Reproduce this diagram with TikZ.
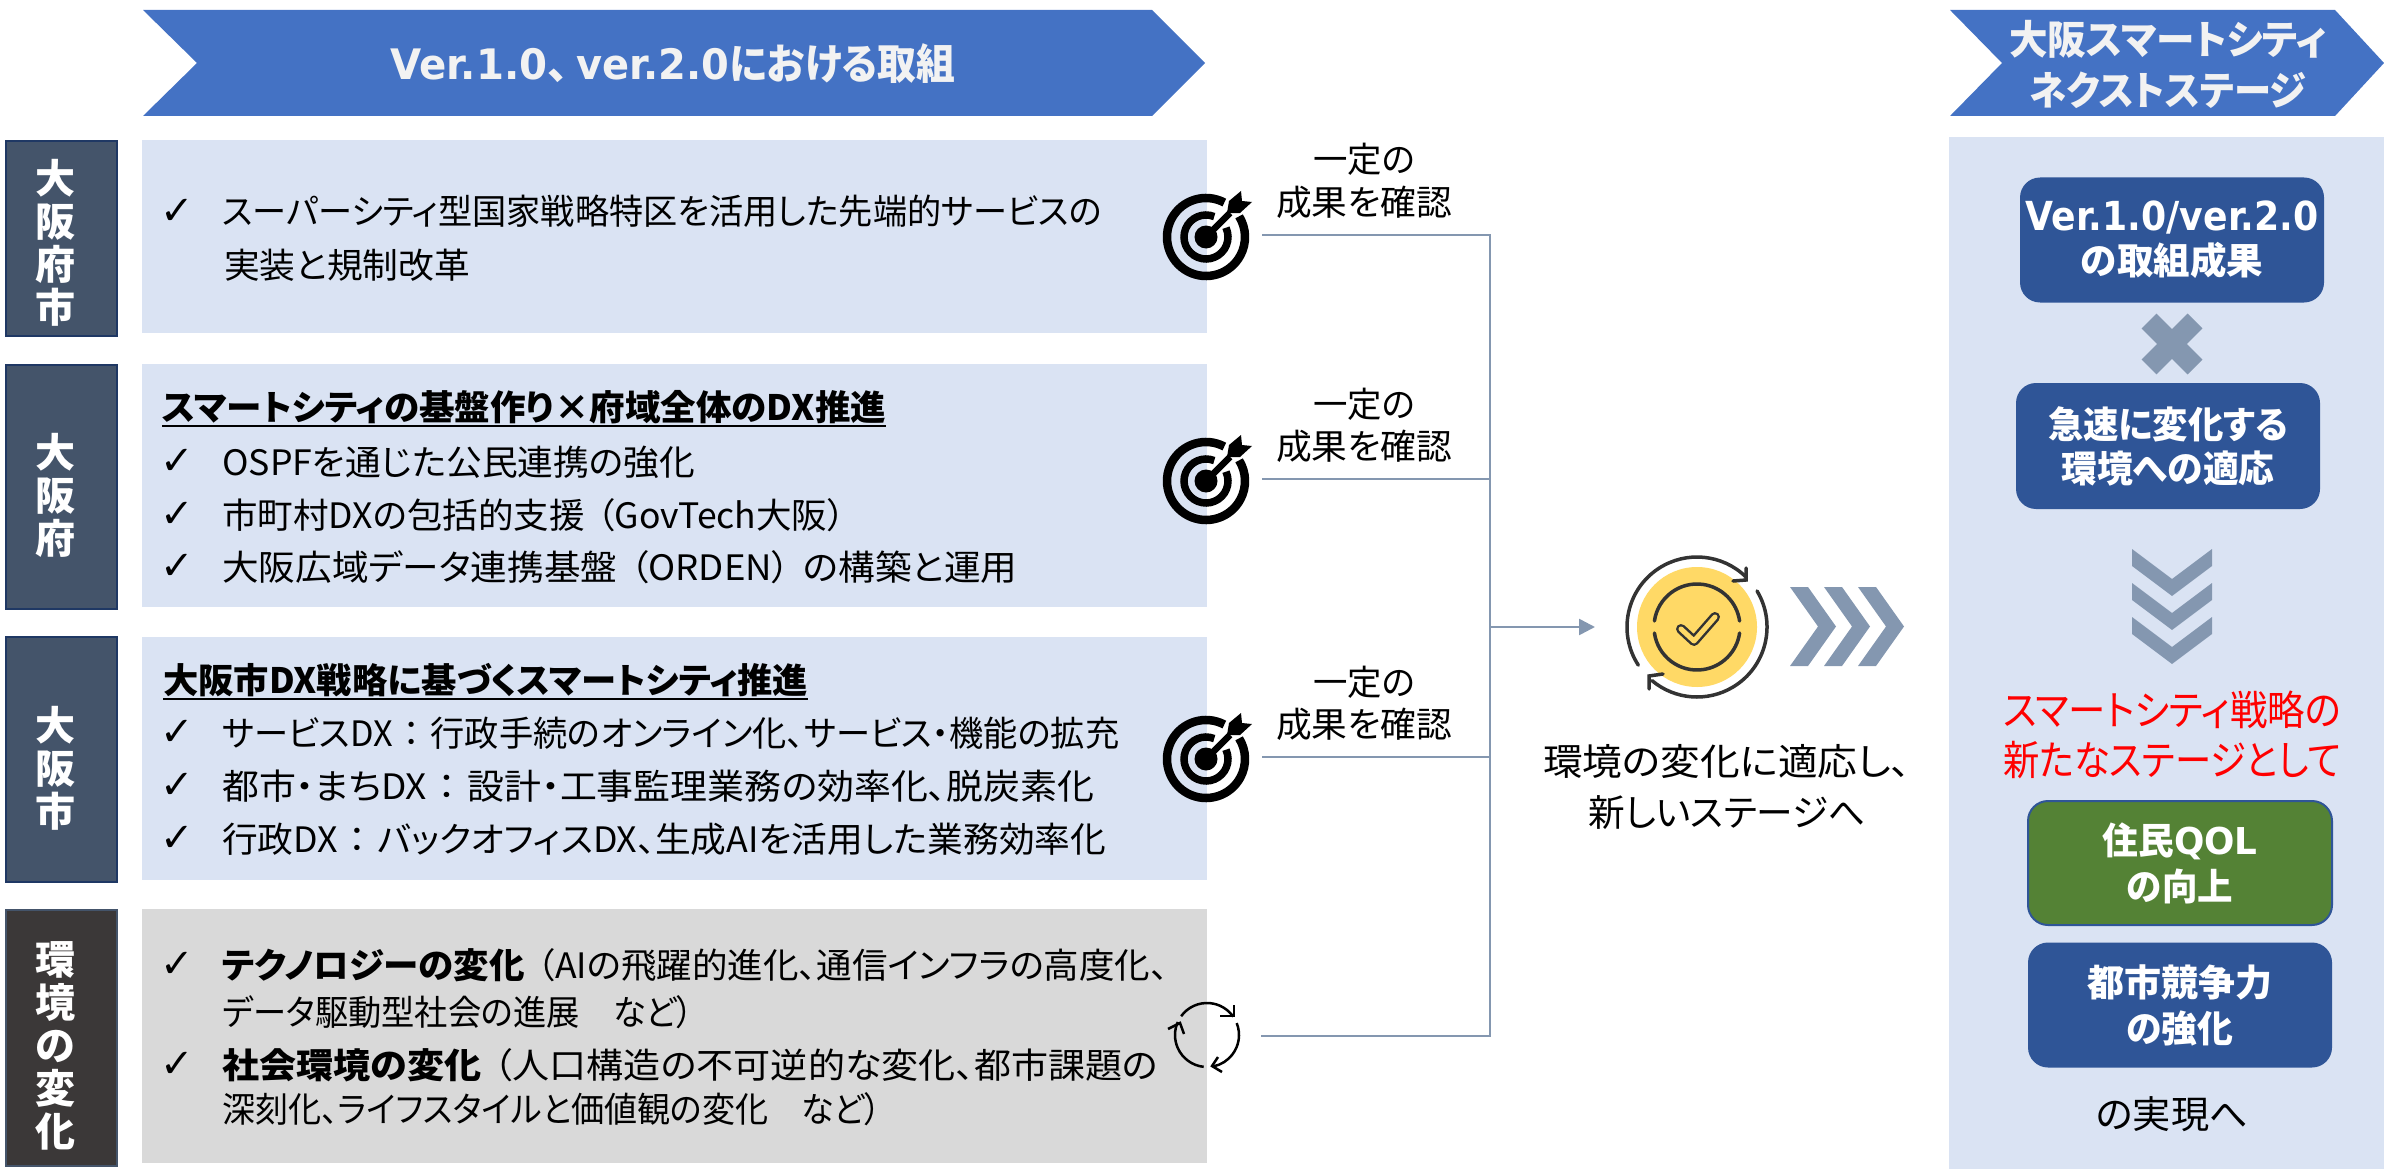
\documentclass[tikz,border=0pt]{standalone}
\usepackage{graphicx}
\usepackage{fontspec}
\setmainfont{Noto Sans CJK JP}[RawFeature=+palt]
\newfontfamily\chkfont{DejaVu Sans}
\newfontfamily\verfont{DejaVu Sans}
\usetikzlibrary{arrows.meta}
\newcommand{\fw}[2]{\resizebox{#1pt}{\height}{#2}}
\newcommand{\fs}[2]{\fontsize{#1}{#2}\selectfont}
\newcommand{\wcolon}{\hspace{.3em}：\hspace{.3em}}
\newcommand{\wopen}{\hspace{.35em}（}
\newcommand{\wclose}{）\hspace{.35em}}
\definecolor{headblue}{HTML}{4472C4}
\definecolor{panelblue}{HTML}{DAE3F3}
\definecolor{panelgray}{HTML}{D9D9D9}
\definecolor{slate}{HTML}{44546A}
\definecolor{slateedge}{HTML}{1F3864}
\definecolor{envdark}{HTML}{3B3838}
\definecolor{boxblue}{HTML}{2F5597}
\definecolor{boxgreen}{HTML}{548235}
\definecolor{steel}{HTML}{8497B0}
\definecolor{sunny}{HTML}{FFD966}
\definecolor{offwhite}{HTML}{F2F2F2}
\tikzset{
  panelbox/.style={fill=panelblue,draw=none,anchor=north west,minimum width=1065pt,inner sep=0},
  sidebox/.style={fill=slate,draw=slateedge,line width=2pt,anchor=north west,minimum width=111pt,inner sep=0},
  sidetext/.style={text=white,font=\bfseries\fs{40}{43},align=center,inner sep=0},
  itemtext/.style={anchor=base west,inner sep=0,font=\fs{35}{42}},
  headtext/.style={anchor=base west,inner sep=0,font=\bfseries\fs{35}{42}},
  chk/.style={inner sep=0,font=\chkfont\bfseries\fs{40}{40}},
  conn/.style={draw=steel,line width=2.5pt},
  resultbox/.style={rounded corners=20pt,fill=boxblue,draw=none,minimum width=304pt,text=white,align=center,inner sep=0,font=\bfseries\fs{37}{44}},
  plaintext/.style={inner sep=0,align=center,anchor=base,font=\fs{35}{42}},
  targeticon/.pic={
    \begin{scope}[y=1pt,x=1pt]
      \draw[line width=8.5pt,black] (62:39) arc[start angle=62,end angle=392,radius=39];
      \draw[line width=7.5pt,black] (68:22) arc[start angle=68,end angle=385,radius=22];
      \fill[black] (0,0) circle (11.5);
      \draw[line width=6.5pt,black] (0,0) -- (24,24);
      \fill[black] (21,24) -- (23,36) -- (35,46) -- (36,36) -- (46,35) -- (34,24) -- cycle;
    \end{scope}
  },
  refreshicon/.pic={
    \begin{scope}[y=1pt,x=1pt]
      \fill[sunny] (0,0) circle (60);
      \draw[line width=3.5pt,black!80,line cap=round] (213:70) arc[start angle=213,end angle=46,radius=70];
      \draw[line width=3.5pt,black!80,line cap=round,line join=miter] (49,59) -- (49,47) -- (36,46);
      \draw[line width=3.5pt,black!80,line cap=round] (31:70) arc[start angle=31,end angle=-130,radius=70];
      \draw[line width=3.5pt,black!80,line cap=round,line join=miter] (-48,-62) -- (-48,-49) -- (-34,-47);
      \draw[line width=3.5pt,black!80,line cap=round] (172:43) arc[start angle=172,end angle=8,radius=43];
      \draw[line width=3.5pt,black!80,line cap=round] (188:43) arc[start angle=188,end angle=352,radius=43];
      \draw[line width=10pt,black!80,line cap=round,line join=round] (-16,-2) -- (-3,-14) -- (18,10);
      \draw[line width=5pt,sunny,line cap=round,line join=round] (-16,-2) -- (-3,-14) -- (18,10);
    \end{scope}
  },
  cycleicon/.pic={
    \begin{scope}[y=1pt,x=1pt]
      \draw[line width=2.5pt,black] (144:32) arc[start angle=144,end angle=35,radius=32];
      \draw[line width=2.5pt,black] (27,30) -- (27,19) -- (13,19);
      \draw[line width=2.5pt,black] (22:32) arc[start angle=22,end angle=-78,radius=32];
      \draw[line width=2.5pt,black] (11,-22) -- (5,-31) -- (15,-37);
      \draw[line width=2.5pt,black] (264:32) arc[start angle=264,end angle=156,radius=32];
      \draw[line width=2.5pt,black] (-39,6) -- (-27,12) -- (-23,1);
    \end{scope}
  }
}
\begin{document}
\begin{tikzpicture}[x=1pt,y=-1pt]
\useasboundingbox (0,0) rectangle (2384,1169);

% header chevrons
\fill[headblue] (143,10) -- (1152,10) -- (1205,63) -- (1152,116) -- (143,116) -- (197,63) -- cycle;
\node[text=offwhite,inner sep=0,font=\bfseries\fs{42}{50}] (mainhead) at (673,64) {\fw{157}{{\verfont Ver.1.0}}\makebox[29pt][l]{、}\fw{153}{{\verfont ver.2.0}}\fw{226}{における取組}};
\fill[headblue] (1950,10) -- (2335,10) -- (2384,63) -- (2335,116) -- (1950,116) -- (2002,63) -- cycle;
\node[text=offwhite,inner sep=0,align=center,font=\bfseries\fs{40}{51}] (nexthead) at (2168,64) {\fw{318}{大阪スマートシティ}\\\fw{277}{ネクストステージ}};

% side labels
\node[sidebox,minimum height=195pt] (l1) at (5,140) {};
\node[sidebox,minimum height=244pt] (l2) at (5,364) {};
\node[sidebox,minimum height=245pt] (l3) at (5,636) {};
\node[sidebox,minimum height=256pt,fill=envdark,draw=slate] (l4) at (5,909) {};
\node[sidetext] (l1t) at ([xshift=-6pt,yshift=-4pt]l1.center) {大\\阪\\府\\市};
\node[sidetext] (l2t) at ([xshift=-6pt,yshift=-8pt]l2.center) {大\\阪\\府};
\node[sidetext] (l3t) at ([xshift=-6pt,yshift=-9pt]l3.center) {大\\阪\\市};
\node[sidetext] (l4t) at ([xshift=-6pt,yshift=-8pt]l4.center) {環\\境\\の\\変\\化};

% panels
\node[panelbox,minimum height=193pt] (p1) at (142,140) {};
\node[panelbox,minimum height=243pt] (p2) at (142,364) {};
\node[panelbox,minimum height=243pt] (p3) at (142,637) {};
\node[panelbox,minimum height=254pt,fill=panelgray] (p4) at (142,909) {};

% check marks
\foreach \n/\y in {a/212,b/462,c/515,d/567,e/733,f/786,g/839,h/965,i/1065}
  \node[chk] (chk\n) at (177,\y) {✓};

% panel 1
\node[itemtext] (t11) at (222,225) {\fw{880}{スーパーシティ型国家戦略特区を活用した先端的サービスの}};
\node[itemtext] (t12) at (224,278) {\fw{246}{実装と規制改革}};
% panel 2
\node[headtext] (h2) at (162,420) {\fw{724}{スマートシティの基盤作り×府域全体のDX推進}};
\draw[line width=2pt] ([yshift=-6pt]h2.base west) -- ([yshift=-6pt]h2.base east);
\node[itemtext] (t21) at (222,475) {\fw{473}{OSPFを通じた公民連携の強化}};
\node[itemtext] (t22) at (222,528) {\fw{623}{市町村DXの包括的支援\wopen GovTech大阪）}};
\node[itemtext] (t23) at (222,580) {\fw{795}{大阪広域データ連携基盤\wopen ORDEN\wclose の構築と運用}};
% panel 3
\node[headtext] (h3) at (163,693) {\fw{645}{大阪市DX戦略に基づくスマートシティ推進}};
\draw[line width=2pt] ([yshift=-6pt]h3.base west) -- ([yshift=-6pt]h3.base east);
\node[itemtext] (t31) at (222,746) {\fw{897}{サービスDX\wcolon 行政手続のオンライン化、サービス・機能の拡充}};
\node[itemtext] (t32) at (222,799) {\fw{872}{都市・まちDX\wcolon 設計・工事監理業務の効率化、脱炭素化}};
\node[itemtext] (t33) at (222,852) {\fw{884}{行政DX\wcolon バックオフィスDX、生成AIを活用した業務効率化}};
% panel 4
\node[itemtext] (t41) at (222,978) {\fw{946}{{\bfseries テクノロジーの変化}\wopen AIの飛躍的進化、通信インフラの高度化、}};
\node[itemtext] (t42) at (222,1025) {\fw{471}{データ駆動型社会の進展　など）}};
\node[itemtext] (t43) at (222,1078) {\fw{936}{{\bfseries 社会環境の変化}\wopen 人口構造の不可逆的な変化、都市課題の}};
\node[itemtext] (t44) at (222,1122) {\fw{659}{深刻化、ライフスタイルと価値観の変化　など）}};

% icons
\pic at (1206,237) {targeticon};
\pic at (1206,481) {targeticon};
\pic at (1206,759) {targeticon};
\pic at (1207,1035) {cycleicon};

% labels
\node[plaintext] (n1a) at (1364,173) {\fw{102}{一定の}};
\node[plaintext] (n1b) at (1364,215) {\fw{176}{成果を確認}};
\node[plaintext] (n2a) at (1364,417) {\fw{102}{一定の}};
\node[plaintext] (n2b) at (1364,459) {\fw{176}{成果を確認}};
\node[plaintext] (n3a) at (1364,695) {\fw{102}{一定の}};
\node[plaintext] (n3b) at (1364,737) {\fw{176}{成果を確認}};

% connectors
\coordinate (s1) at (1262,235);
\coordinate (s2) at (1262,479);
\coordinate (s3) at (1262,757);
\coordinate (s4) at (1261,1036);
\coordinate (junc) at (1490,627);
\coordinate (tip) at (1595,627);
\draw[conn] (s1) -| (junc);
\draw[conn] (s2) -| (junc);
\draw[conn] (s3) -| (junc);
\draw[conn] (s4) -| (junc);
\draw[conn,-{Triangle[length=16pt,width=16pt]}] (junc) -- (tip);

% centre
\pic at (1697,627) {refreshicon};
\foreach \d in {0,34,68}
  \fill[steel] (1790+\d,587) -- (1808+\d,587) -- (1836+\d,626.5) -- (1808+\d,666) -- (1790+\d,666) -- (1818+\d,626.5) -- cycle;
\node[inner sep=0,align=center,font=\fs{37}{51}] (adapt) at (1727,787) {\fw{368}{環境の変化に適応し、}\\\fw{277}{新しいステージへ}};

% right panel
\fill[panelblue] (1949,137) rectangle (2384,1169);
\node[resultbox,minimum height=125pt] (r1) at (2172,240) {\fw{293}{{\verfont\fs{40}{44}Ver.1.0/ver.2.0}}\\\fw{182}{の取組成果}};
\node[resultbox,minimum height=126pt] (r2) at (2168,446) {\fw{240}{急速に変化する}\\\fw{213}{環境への適応}};
\draw[steel,line width=21pt] (2149,321) -- (2195,367);
\draw[steel,line width=21pt] (2195,321) -- (2149,367);
\foreach \d in {0,34,68}
  \fill[steel] (2132,549+\d) -- (2172,579+\d) -- (2212,549+\d) -- (2212,566+\d) -- (2172,596+\d) -- (2132,566+\d) -- cycle;
\node[inner sep=0,align=center,text=red,font=\fs{41}{50}] (goal) at (2172,735) {\fw{338}{スマートシティ戦略の}\\\fw{338}{新たなステージとして}};
\node[resultbox,minimum height=124pt,fill=boxgreen,draw=boxblue,line width=2pt,font=\bfseries\fs{37}{46}] (r3) at (2180,863) {\fw{155}{住民{\verfont QOL}}\\\fw{106}{の向上}};
\node[resultbox,minimum height=125pt,font=\bfseries\fs{37}{46}] (r4) at (2180,1005) {\fw{185}{都市競争力}\\\fw{107}{の強化}};
\node[inner sep=0,font=\fs{38}{46}] (real) at (2172,1114) {\fw{152}{の実現へ}};
\end{tikzpicture}
\end{document}
